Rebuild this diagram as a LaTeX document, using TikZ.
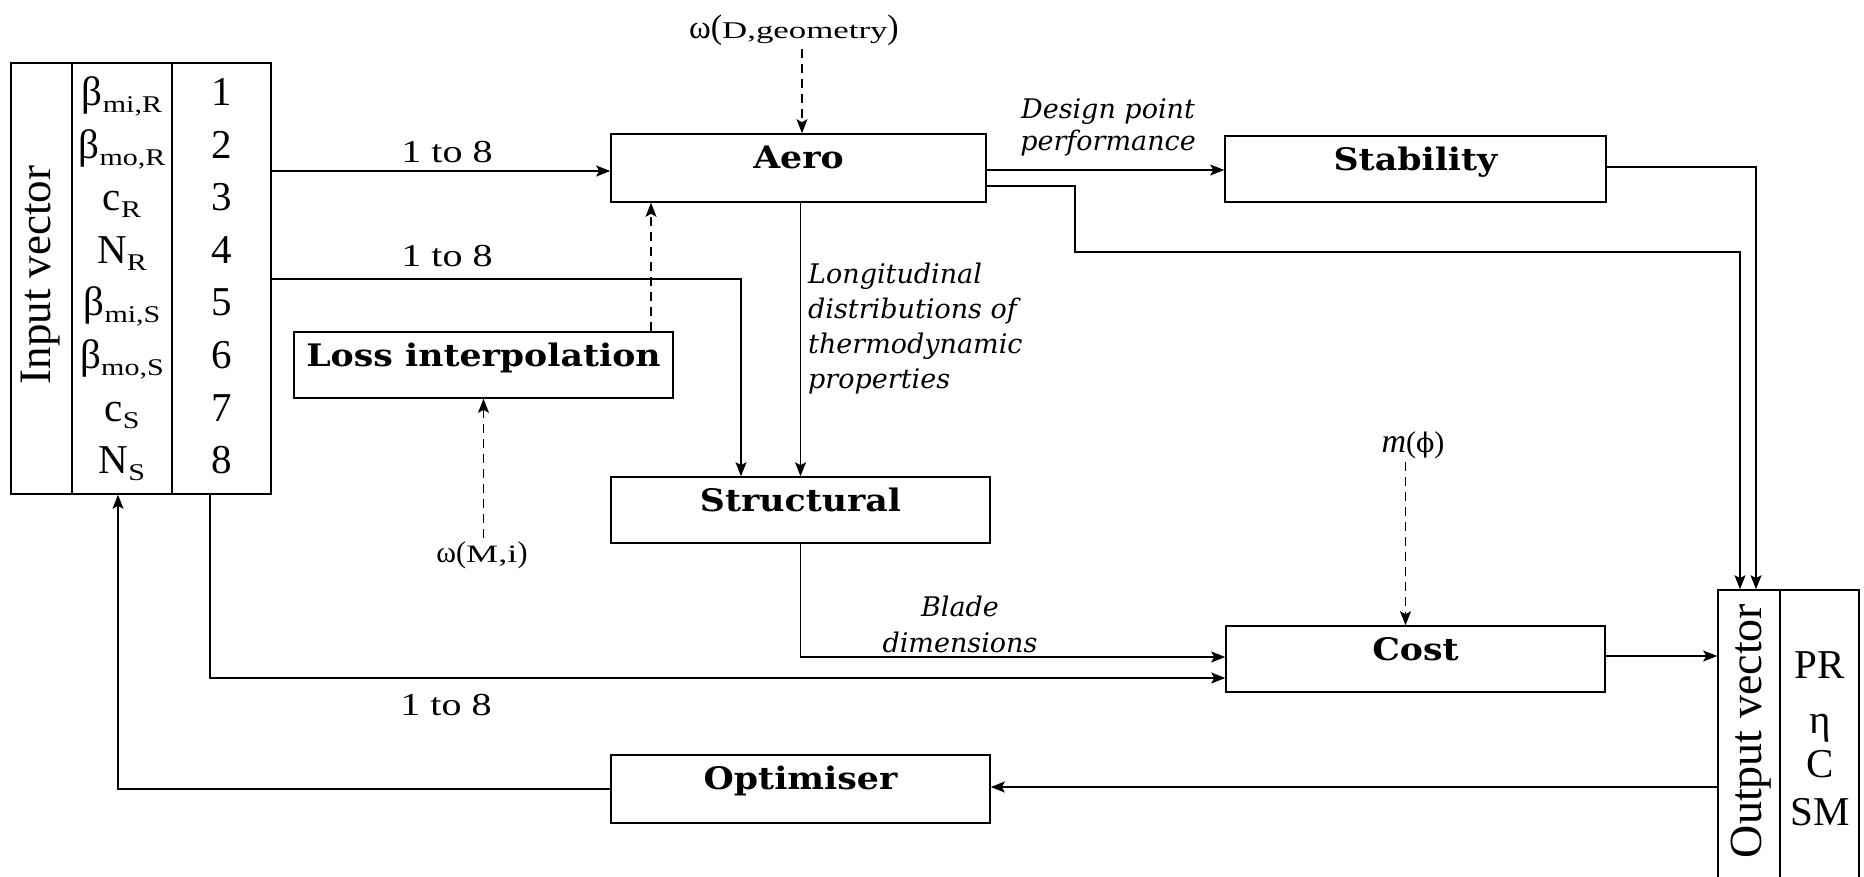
\documentclass[tikz,border=0pt]{standalone}
\usepackage{fontspec}
\usepackage{graphicx}
\setmainfont{Liberation Serif}
\newfontfamily\slabfont{DejaVu Serif}
\newfontfamily\boxfont[FakeStretch=1.12]{DejaVu Serif}
\newfontfamily\widefont[FakeStretch=1.25]{Liberation Serif}
\newfontfamily\widerfont[FakeStretch=1.45]{Liberation Serif}
\usetikzlibrary{arrows.meta}
\newcommand\lowsub[1]{\raisebox{-7pt}{\widefont\fontsize{24}{24}\selectfont #1}}
\newcommand\fsz[1]{\fontsize{#1}{#1}\selectfont}
\begin{document}
\begin{tikzpicture}[x=1pt,y=-1pt,
 box/.style={draw,line width=1.6pt,minimum width=379pt,minimum height=66pt,inner sep=0pt,
   text height=34pt,text depth=32pt,font=\boxfont\bfseries\fsz{31}},
 col/.style={draw,line width=1.6pt,minimum height=431pt,inner sep=0pt},
 arr/.style={line width=1.6pt,-{Stealth[length=14pt,width=11pt,inset=3pt]}},
 dsh/.style={arr,dash pattern=on 9pt off 6pt,line width=1.3pt},
 lab/.style={font=\widefont\fsz{32},inner sep=0pt,anchor=base},
 itl/.style={font=\slabfont\itshape\fontsize{27}{33}\selectfont,inner sep=0pt,anchor=base},
 big/.style={font=\fsz{41},inner sep=0pt,anchor=base},
 omg/.style={inner sep=3pt}
]
\fill[white] (0,0) rectangle (1864,876);
\useasboundingbox (0,0) rectangle (1864,876);

% main boxes
\node[box,minimum width=375pt,minimum height=68pt,text depth=34pt] (aero) at (798.5,168) {Aero};
\node[box,minimum width=381pt] (stab) at (1415.5,169) {Stability};
\node[box] (loss) at (483.5,365) {Loss interpolation};
\node[box] (struct) at (800.5,510) {Structural};
\node[box] (cost) at (1415.5,659) {Cost};
\node[box,minimum height=68pt,text depth=34pt] (opt) at (800.5,789) {Optimiser};

% input vector
\node[col,minimum width=61pt] (iv1) at (41.5,278.5) {};
\node[col,minimum width=100pt] (iv2) at (122,278.5) {};
\node[col,minimum width=99pt] (iv3) at (221.5,278.5) {};
\node[rotate=90,font=\fsz{45},inner sep=0pt] (ivt) at (41,275) {Input vector};
\node[big] (s1) at (122,105) {β\lowsub{mi,R}};
\node[big] (s2) at (122,158) {β\lowsub{mo,R}};
\node[big] (s3) at (122,210) {c\lowsub{R}};
\node[big] (s4) at (122,263) {N\lowsub{R}};
\node[big] (s5) at (122,315) {β\lowsub{mi,S}};
\node[big] (s6) at (122,368) {β\lowsub{mo,S}};
\node[big] (s7) at (122,421) {c\lowsub{S}};
\node[big] (s8) at (122,473) {N\lowsub{S}};
\node[big] (n1) at (221.5,105) {1};
\node[big] (n2) at (221.5,158) {2};
\node[big] (n3) at (221.5,210) {3};
\node[big] (n4) at (221.5,263) {4};
\node[big] (n5) at (221.5,315) {5};
\node[big] (n6) at (221.5,368) {6};
\node[big] (n7) at (221.5,421) {7};
\node[big] (n8) at (221.5,473) {8};

% output vector
\node[col,minimum width=62pt,minimum height=300pt] (ov1) at (1749,740) {};
\node[col,minimum width=79pt,minimum height=300pt] (ov2) at (1819.5,740) {};
\node[rotate=90,font=\fsz{46},inner sep=0pt] (ovt) at (1751,731) {Output vector};
\node[big] (o1) at (1820,678) {PR};
\node[big] (o2) at (1820,733) {η};
\node[big] (o3) at (1820,777) {C};
\node[big] (o4) at (1820,825) {SM};

% external inputs
\node[omg] (wD) at (794,30) {{\fsz{33}ω}{\fsz{34}(}{\widerfont\fsz{24}D,geometry}{\fsz{34})}};
\node[omg] (wM) at (482,555) {{\fsz{30}ω(}{\widerfont\fsz{25}M,i}{\fsz{30})}};
\node[omg] (mp) at (1413,445) {{\fsz{34}\itshape m}{\fsz{30}(}{\slabfont\fsz{27}ϕ}{\fsz{30})}};

% labels
\node[lab] (l1) at (447,162) {1 to 8};
\node[lab] (l2) at (447,266) {1 to 8};
\node[lab] (l3) at (446,715) {1 to 8};
\node[itl,align=center,font=\slabfont\itshape\fontsize{27}{32}\selectfont] (dp) at (1108,150) {Design point\\performance};
\node[itl,align=left,anchor=base west,font=\slabfont\itshape\fontsize{27}{35}\selectfont] (lng) at (808,388) {Longitudinal\\distributions of\\thermodynamic\\properties};
\node[itl,align=center,font=\slabfont\itshape\fontsize{27}{36}\selectfont] (bd) at (960,652) {Blade\\dimensions};

% connectors
\draw[arr] (iv3.east |- 0,171) -- (aero.west |- 0,171);
\draw[arr] (iv3.east |- 0,279) -| ([xshift=-59.5pt]struct.north);
\draw[arr] (aero.south -| struct.north) -- (struct.north);
\draw[arr] (aero.east |- 0,170) -- (stab.west |- 0,170);
\draw[arr] (aero.east |- 0,186) -- (1075,186) -- (1075,252) -| ([xshift=-9pt]ov1.north);
\draw[arr] (stab.east |- 0,167) -| ([xshift=7pt]ov1.north);
\draw[dsh] ([xshift=3.5pt]aero.north |- wD.south) -- ([xshift=3.5pt]aero.north);
\draw[dsh] ([xshift=167.5pt]loss.north) -- ([xshift=167.5pt]loss.north |- aero.south);
\draw[dsh] (loss.south |- wM.north) -- (loss.south);
\draw[dsh] ([xshift=-10pt]cost.north |- mp.south) -- ([xshift=-10pt]cost.north);
\draw[arr] (struct.south) |- (cost.west |- 0,657);
\draw[arr] ([xshift=-11.5pt]iv3.south) |- (cost.west |- 0,678);
\draw[arr] (cost.east |- 0,656) -- (ov1.west |- 0,656);
\draw[arr] (ov1.west |- 0,787) -- (opt.east |- 0,787);
\draw[arr] (opt.west) -| ([xshift=-4pt]iv2.south);
\end{tikzpicture}
\end{document}
